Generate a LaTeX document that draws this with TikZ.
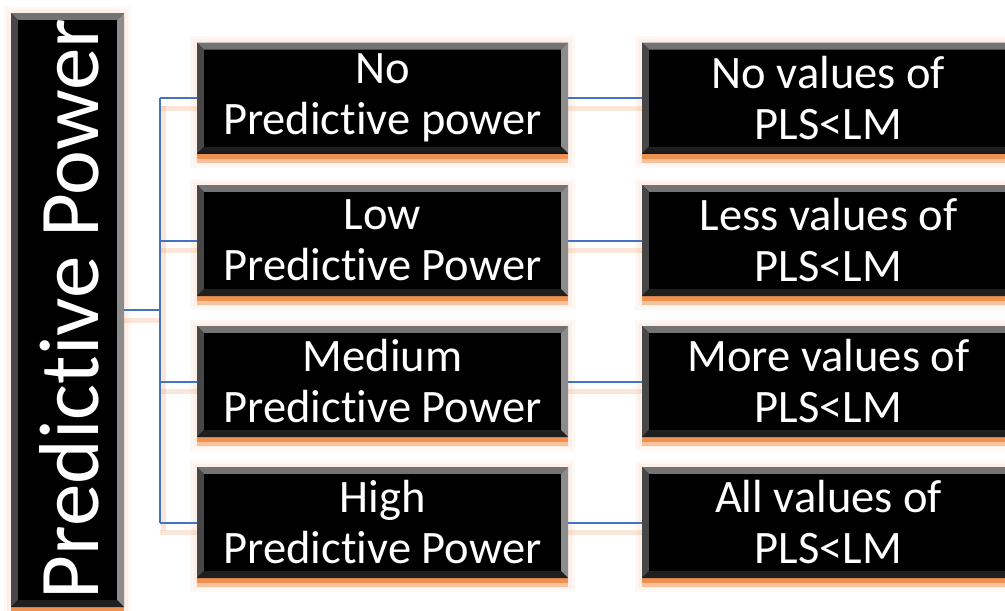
\documentclass[tikz,border=0pt]{standalone}
\usepackage{fontspec}
\setmainfont{Carlito}[Ligatures=NoCommon]
\usetikzlibrary{backgrounds,calc}
\definecolor{ora}{HTML}{ED7D31}
\definecolor{blu}{HTML}{4472C4}
\tikzset{
  bevbox/.style={fill=black, inner sep=0pt, text=white, align=center,
    font=\fontsize{46.5}{51}\selectfont,
    path picture={
      \coordinate (nw) at (path picture bounding box.north west);
      \coordinate (ne) at (path picture bounding box.north east);
      \coordinate (sw) at (path picture bounding box.south west);
      \coordinate (se) at (path picture bounding box.south east);
      \fill[black!55] (nw) -- (ne) -- ($(ne)+(-7,7)$) -- ($(nw)+(7,7)$) -- cycle;
      \fill[black!72] (nw) -- (sw) -- ($(sw)+(7,-7)$) -- ($(nw)+(7,7)$) -- cycle;
      \fill[black!45] (ne) -- (se) -- ($(se)+(-7,-7)$) -- ($(ne)+(-7,7)$) -- cycle;
      \fill[black!88] (sw) -- (se) -- ($(se)+(-7,-7)$) -- ($(sw)+(7,-7)$) -- cycle;
      \fill[black] ($(nw)+(7,7)$) rectangle ($(se)+(-7,-7)$);
    }},
  midbox/.style={bevbox, minimum width=371pt, minimum height=111pt},
  rightbox/.style={bevbox, minimum width=373pt, minimum height=111pt},
  link/.style={draw=blu, line width=2pt},
  linkshadow/.style={draw=ora, line width=5pt, opacity=0.18},
}
\newcommand\glow[1]{%
  \fill[ora, opacity=0.05] ($(#1.north west)+(-7,-6)$) rectangle ($(#1.south east)+(7,14)$);
  \fill[ora, opacity=0.06] ($(#1.north west)+(-4,-3)$) rectangle ($(#1.south east)+(4,10)$);
  \fill[ora, opacity=0.4] ($(#1.south west)+(0,0)$) rectangle ($(#1.south east)+(0,9)$);
  \fill[ora, opacity=0.7] ($(#1.south west)+(0,0)$) rectangle ($(#1.south east)+(0,5)$);
}
\begin{document}
\begin{tikzpicture}[x=1pt, y=-1pt]
\useasboundingbox (0,0) rectangle (1005,611);
\clip (0,0) rectangle (1005,611);

\node[bevbox, minimum width=113pt, minimum height=594pt] (L) at (67.5,310) {};
\node[text=white, rotate=90, font=\fontsize{85}{92}\selectfont, inner sep=0pt] (Lt) at (69,309) {Predictive Power};

\node[midbox] (m1) at (382.5,98) {No\\Predictive power};
\node[midbox] (m2) at (382.5,240.5) {Low\\Predictive Power};
\node[midbox] (m3) at (382.5,381.5) {Medium\\Predictive Power};
\node[midbox] (m4) at (382.5,522.5) {High\\Predictive Power};

\node[rightbox] (r1) at (828.5,98) {No values of\\PLS<LM};
\node[rightbox] (r2) at (828.5,240.5) {Less values of\\PLS<LM};
\node[rightbox] (r3) at (828.5,381.5) {More values of\\PLS<LM};
\node[rightbox] (r4) at (828.5,522.5) {All values of\\PLS<LM};

\coordinate (spine) at (160,310);

\begin{scope}[on background layer]
  \fill[white] (0,0) rectangle (1005,611);
  \foreach \n in {L,m1,m2,m3,m4,r1,r2,r3,r4} {\glow{\n}}
  \draw[linkshadow] ([yshift=-10]L.east) -- ([yshift=-10]spine);
  \foreach \i in {1,2,3,4} {
    \draw[linkshadow] ([yshift=-10]spine |- m\i.west) -- ([yshift=-10]m\i.west);
    \draw[linkshadow] ([yshift=-10]m\i.east) -- ([yshift=-10]r\i.west);
  }
  \draw[linkshadow] ([xshift=3,yshift=-8]spine |- m1.west) -- ([xshift=3,yshift=-8]spine |- m4.west);
  \draw[link] (L.east) -- (spine);
  \draw[link] (spine |- m1.west) -- (spine |- m4.west);
  \foreach \i in {1,2,3,4} {
    \draw[link] (spine |- m\i.west) -- (m\i.west);
    \draw[link] (m\i.east) -- (r\i.west);
  }
\end{scope}
\end{tikzpicture}
\end{document}
